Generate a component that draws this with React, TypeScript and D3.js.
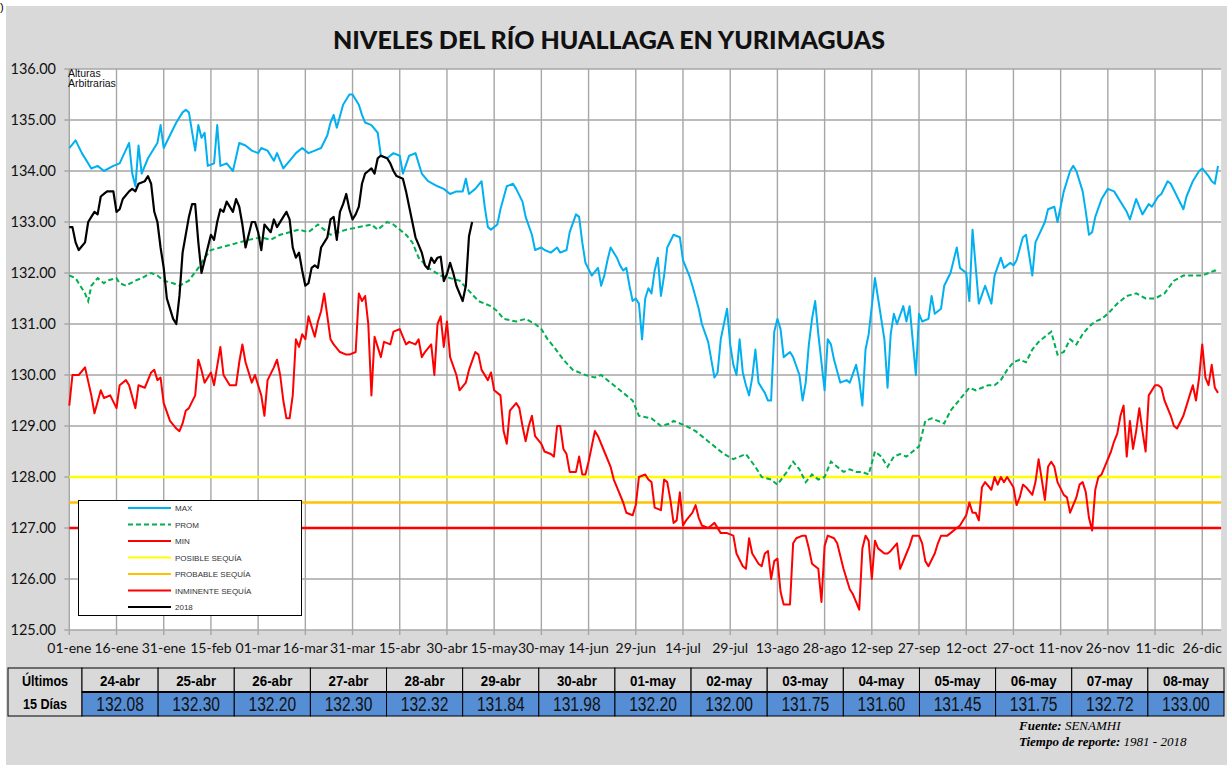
import React from "react";
import * as d3 from "d3";

// etiquetas del eje x (cada 15 días)
const dayLabels = [
  "01-ene", "16-ene", "31-ene", "15-feb", "01-mar", "16-mar", "31-mar", "15-abr", "30-abr",
  "15-may", "30-may", "14-jun", "29-jun", "14-jul", "29-jul", "13-ago", "28-ago", "12-sep",
  "27-sep", "12-oct", "27-oct", "11-nov", "26-nov", "11-dic", "26-dic",
];
const yTicks = [125, 126, 127, 128, 129, 130, 131, 132, 133, 134, 135, 136];

// [día del año, nivel]
const maxSerie: [number, number][] = [
  [0,134.45],[2,134.6],[4,134.35],[7,134.05],[9,134.1],[11,134.0],[14,134.1],[16,134.15],[19,134.55],[20,133.95],
  [21,133.7],[22,134.5],[23,133.95],[25,134.25],[27,134.45],[28,134.55],[29,134.9],[30,134.45],[32,134.7],[34,134.95],
  [36,135.15],[37,135.2],[38,135.15],[40,134.4],[41,134.9],[42,134.65],[43,134.75],[44,134.1],[46,134.15],[47,134.9],
  [48,134.1],[50,134.15],[52,134.0],[54,134.55],[56,134.5],[58,134.4],[60,134.35],[61,134.45],[63,134.4],[65,134.2],
  [66,134.35],[68,134.05],[70,134.2],[72,134.35],[74,134.45],[76,134.35],[78,134.4],[80,134.45],[82,134.7],[83,134.95],
  [84,135.1],[85,134.85],[87,135.3],[89,135.5],[90,135.5],[92,135.3],[93,135.1],[94,134.95],[96,134.9],[98,134.75],
  [99,134.3],[101,134.25],[103,134.35],[105,134.3],[106,133.95],[108,134.3],[110,134.35],[112,133.95],[114,133.8],[117,133.7],
  [119,133.65],[121,133.55],[123,133.6],[125,133.6],[126,133.85],[127,133.55],[129,133.65],[131,133.8],[132,133.3],[133,132.9],
  [134,132.85],[136,132.95],[137,133.25],[139,133.7],[141,133.75],[142,133.65],[144,133.4],[145,133.1],[147,132.75],[148,132.45],
  [150,132.5],[151,132.45],[153,132.4],[155,132.5],[156,132.4],[158,132.45],[159,132.8],[161,133.15],[162,133.1],[163,132.6],
  [164,132.2],[166,131.95],[168,132.1],[169,131.75],[170,131.95],[171,132.25],[172,132.5],[174,132.3],[175,132.15],[176,132.05],
  [177,132.1],[178,131.75],[179,131.45],[180,131.5],[181,131.4],[182,130.7],[183,131.5],[184,131.7],[185,131.6],[186,132.05],
  [187,132.3],[188,131.55],[189,131.95],[190,132.5],[192,132.75],[194,132.7],[195,132.25],[197,131.95],[198,131.75],[200,131.3],
  [201,131.0],[203,130.65],[205,129.95],[206,130.05],[207,130.7],[208,131.0],[209,131.3],[210,130.6],[211,130.2],[212,130.0],
  [213,130.7],[214,130.05],[215,129.8],[216,129.6],[217,129.95],[218,130.5],[219,129.85],[221,129.65],[222,129.5],[223,129.5],
  [224,130.85],[225,131.1],[226,130.9],[227,130.35],[229,130.45],[230,130.35],[232,130.0],[233,129.5],[234,129.85],[235,130.6],
  [236,131.1],[237,131.45],[238,130.8],[240,129.7],[241,130.7],[242,130.6],[243,130.3],[245,129.85],[247,129.9],[248,129.85],
  [250,130.2],[251,129.9],[252,129.4],[253,130.5],[254,130.8],[256,131.9],[257,131.5],[259,130.7],[260,129.75],[261,130.8],
  [262,131.2],[263,131.0],[265,131.35],[266,131.05],[267,131.35],[269,130.0],[270,131.2],[271,131.05],[273,131.1],[274,131.55],
  [275,131.2],[277,131.3],[278,131.75],[280,132.0],[282,132.5],[283,132.1],[285,132.0],[286,131.45],[287,132.85],[289,131.4],
  [291,131.75],[293,131.4],[294,131.95],[296,132.3],[297,132.1],[299,132.2],[300,132.15],[301,132.25],[303,132.7],[304,132.75],
  [306,131.95],[307,132.6],[310,133.0],[311,133.25],[313,133.3],[314,133.0],[316,133.6],[318,134.0],[319,134.1],[320,134.0],
  [322,133.6],[323,133.2],[324,132.75],[325,132.8],[326,133.1],[328,133.45],[330,133.65],[332,133.6],[334,133.4],[336,133.2],
  [337,133.05],[339,133.45],[341,133.15],[343,133.35],[344,133.3],[346,133.5],[347,133.55],[349,133.8],[350,133.75],[352,133.5],
  [354,133.25],[355,133.5],[357,133.8],[359,134.0],[360,134.05],[362,133.9],[363,133.8],[364,133.75],[365,134.1],
];

const promSerie: [number, number][] = [
  [0,131.95],[2,131.9],[3,131.8],[5,131.6],[6,131.45],[7,131.75],[9,131.9],[11,131.8],[12,131.85],[15,131.9],
  [16,131.8],[18,131.75],[21,131.85],[23,131.9],[26,132.0],[28,131.95],[30,131.85],[33,131.8],[35,131.75],[38,131.85],
  [41,132.1],[43,132.3],[45,132.45],[48,132.5],[51,132.55],[54,132.6],[57,132.65],[61,132.7],[64,132.65],[67,132.75],
  [70,132.8],[73,132.85],[76,132.8],[79,132.95],[81,132.85],[83,132.75],[88,132.85],[92,132.9],[96,132.95],[98,132.85],
  [101,133.0],[103,132.95],[104,132.9],[107,132.75],[109,132.6],[111,132.3],[114,132.1],[118,131.95],[121,131.9],[124,131.85],
  [127,131.65],[130,131.45],[134,131.35],[136,131.25],[138,131.1],[142,131.05],[145,131.1],[148,131.0],[150,130.9],[152,130.7],
  [154,130.55],[157,130.3],[160,130.1],[164,130.0],[167,129.95],[169,130.0],[172,129.85],[177,129.6],[179,129.5],[181,129.2],
  [185,129.15],[188,129.0],[191,129.05],[192,129.1],[196,129.0],[199,128.9],[202,128.75],[205,128.6],[208,128.45],[211,128.35],
  [215,128.45],[218,128.2],[220,128.0],[223,127.95],[225,127.85],[228,128.1],[230,128.3],[232,128.15],[234,127.9],[236,128.05],
  [238,127.95],[240,128.0],[242,128.3],[244,128.2],[246,128.1],[248,128.15],[250,128.1],[252,128.1],[254,128.05],[256,128.5],
  [258,128.4],[260,128.2],[262,128.4],[264,128.45],[266,128.4],[268,128.5],[270,128.6],[272,129.1],[274,129.15],[276,129.1],
  [278,129.05],[280,129.3],[282,129.45],[284,129.6],[286,129.75],[288,129.7],[290,129.75],[292,129.8],[294,129.8],[296,129.9],
  [298,130.1],[300,130.25],[302,130.3],[304,130.25],[306,130.5],[308,130.65],[310,130.75],[312,130.85],[314,130.4],[316,130.45],
  [318,130.7],[320,130.6],[322,130.8],[324,130.95],[326,131.05],[328,131.1],[330,131.2],[333,131.4],[336,131.55],[339,131.6],
  [342,131.5],[345,131.5],[348,131.6],[351,131.85],[354,131.95],[357,131.95],[360,131.95],[362,132.0],[364,132.05],[365,132.0],
];

const minSerie: [number, number][] = [
  [0,129.4],[1,130.0],[3,130.0],[5,130.15],[7,129.6],[8,129.25],[10,129.7],[11,129.55],[13,129.6],[15,129.35],
  [16,129.8],[18,129.9],[19,129.8],[21,129.35],[22,129.8],[24,129.75],[26,130.05],[27,130.1],[28,129.9],[29,129.95],
  [30,129.45],[32,129.1],[34,128.95],[35,128.9],[36,129.05],[37,129.3],[38,129.35],[40,129.6],[41,130.3],[42,130.1],
  [43,129.85],[45,130.05],[46,129.8],[48,130.55],[49,130.0],[51,129.8],[53,129.8],[54,130.25],[55,130.6],[56,130.25],
  [58,129.85],[59,130.0],[60,129.8],[61,129.6],[62,129.2],[63,129.9],[65,130.15],[66,130.3],[67,130.0],[68,129.5],
  [69,129.15],[70,129.15],[71,129.6],[72,130.7],[73,130.55],[74,130.8],[75,130.7],[76,131.15],[78,130.75],[79,131.05],
  [80,131.25],[81,131.6],[83,130.7],[84,130.6],[86,130.45],[88,130.4],[89,130.4],[91,130.45],[92,131.6],[93,131.45],
  [94,131.55],[95,131.0],[96,129.6],[97,130.75],[99,130.35],[100,130.65],[102,130.6],[103,130.85],[105,130.9],[107,130.6],
  [108,130.65],[110,130.6],[111,130.7],[112,130.35],[113,130.45],[115,130.6],[116,130.0],[117,131.0],[118,131.15],[119,130.55],
  [120,131.05],[121,130.35],[123,130.0],[124,129.7],[126,129.85],[127,130.1],[129,130.45],[130,130.4],[131,130.1],[133,129.9],
  [134,130.05],[135,129.7],[137,129.6],[138,128.9],[139,128.65],[140,129.3],[142,129.45],[143,129.35],[144,129.0],[145,128.7],
  [146,129.0],[147,129.2],[148,128.8],[150,128.65],[151,128.5],[153,128.45],[154,128.4],[155,129.0],[156,129.0],[157,128.55],
  [158,128.45],[159,128.1],[160,128.1],[161,128.1],[162,128.4],[163,128.05],[164,128.05],[165,128.3],[167,128.9],[168,128.8],
  [170,128.5],[172,128.2],[173,127.95],[174,127.8],[176,127.5],[177,127.3],[179,127.25],[180,127.45],[181,128.0],[183,128.05],
  [184,127.95],[185,127.9],[186,127.4],[188,127.35],[189,127.95],[190,127.9],[191,127.55],[192,127.1],[193,127.15],[194,127.7],
  [195,127.05],[196,127.15],[198,127.3],[199,127.45],[200,127.2],[201,127.05],[203,127.0],[204,127.05],[205,127.1],[207,126.9],
  [209,126.9],[211,126.85],[212,126.5],[214,126.25],[215,126.2],[216,126.8],[217,126.5],[219,126.3],[220,126.25],[221,126.5],
  [222,126.55],[223,126.0],[224,126.35],[225,126.4],[226,125.75],[227,125.5],[229,125.5],[230,126.7],[231,126.8],[233,126.85],
  [234,126.85],[235,126.6],[236,126.3],[238,126.2],[239,125.55],[240,126.65],[241,126.85],[243,126.8],[244,126.7],[246,126.2],
  [247,126.0],[248,125.8],[249,125.7],[250,125.55],[251,125.4],[252,126.6],[253,126.85],[254,126.75],[255,126.0],[256,126.75],
  [257,126.6],[259,126.5],[260,126.5],[261,126.55],[263,126.7],[264,126.2],[266,126.5],[267,126.65],[268,126.85],[270,126.85],
  [271,126.7],[272,126.35],[273,126.25],[275,126.5],[276,126.7],[277,126.85],[279,126.85],[280,126.9],[282,127.0],[283,127.05],
  [285,127.25],[286,127.5],[287,127.3],[288,127.3],[289,127.15],[290,127.8],[291,127.9],[293,127.75],[294,128.0],[295,127.85],
  [296,128.0],[297,127.9],[298,128.0],[300,127.8],[301,127.45],[302,127.6],[303,127.85],[304,127.8],[306,127.65],[307,127.9],
  [308,128.35],[310,127.55],[311,128.2],[312,128.3],[313,128.2],[314,127.9],[316,127.65],[317,127.6],[318,127.3],[320,127.6],
  [321,127.85],[322,127.9],[323,127.7],[324,127.2],[325,126.95],[326,127.75],[327,128.0],[328,128.05],[329,128.2],[331,128.5],
  [332,128.7],[333,128.85],[334,129.2],[335,129.4],[336,128.4],[337,129.1],[338,128.55],[339,128.9],[340,129.35],[341,128.9],
  [342,128.5],[343,129.6],[345,129.8],[346,129.8],[347,129.75],[348,129.5],[350,129.2],[351,129.0],[352,128.95],[354,129.2],
  [355,129.4],[356,129.6],[357,129.8],[358,129.5],[359,129.95],[360,130.6],[361,129.95],[362,129.8],[363,130.2],[364,129.75],
  [365,129.65],
];

// 2018 hasta el 23-abr
const serie2018: [number, number][] = [
  [0,132.9],[1,132.9],[2,132.6],[3,132.45],[5,132.6],[6,133.0],[7,133.1],[8,133.2],[9,133.15],[10,133.5],
  [11,133.55],[12,133.6],[14,133.6],[15,133.2],[16,133.25],[17,133.45],[19,133.6],[20,133.65],[21,133.6],[22,133.75],
  [24,133.8],[25,133.9],[26,133.75],[27,133.2],[28,133.0],[29,132.5],[30,132.1],[31,131.5],[33,131.1],[34,131.0],
  [35,131.55],[36,132.4],[38,133.1],[39,133.35],[40,133.35],[41,132.6],[42,132.0],[43,132.25],[45,132.75],[46,132.65],
  [47,133.0],[48,133.25],[49,133.2],[50,133.4],[52,133.2],[53,133.45],[54,133.3],[55,132.95],[56,132.5],[58,133.0],
  [59,133.0],[60,132.8],[61,132.45],[62,132.95],[64,132.8],[65,133.05],[66,132.9],[68,133.1],[69,133.2],[70,133.05],
  [71,132.5],[72,132.3],[73,132.4],[74,132.05],[75,131.75],[76,131.8],[77,132.1],[78,132.15],[79,132.1],[80,132.5],
  [82,132.7],[83,133.05],[84,133.1],[85,132.65],[86,133.2],[87,133.35],[88,133.55],[89,133.25],[90,133.05],[91,133.15],
  [92,133.3],[93,133.75],[94,133.95],[95,134.0],[96,134.05],[97,133.95],[98,134.25],[99,134.3],[101,134.25],[102,134.15],
  [103,134.0],[104,133.9],[106,133.85],[107,133.6],[108,133.3],[109,133.0],[110,132.7],[111,132.55],[112,132.4],[113,132.15],
];

// últimos 15 días
const tableDates = ["24-abr", "25-abr", "26-abr", "27-abr", "28-abr", "29-abr", "30-abr", "01-may", "02-may", "03-may", "04-may", "05-may", "06-may", "07-may", "08-may"];
const tableValues = [132.08, 132.3, 132.2, 132.3, 132.32, 131.84, 131.98, 132.2, 132.0, 131.75, 131.6, 131.45, 131.75, 132.72, 133.0];
const tableStartDay = 114;

const thresholds = [
  { name: "POSIBLE SEQUÍA", value: 128, color: "#ffff00" },
  { name: "PROBABLE SEQUÍA", value: 127.5, color: "#ffc000" },
  { name: "INMINENTE SEQUÍA", value: 127, color: "#ff0000" },
];

export default function App() {
  const W = 1227;
  const H = 765;
  const left = 69.3, right = 1218, top = 69, bottom = 630;

  const x = d3.scaleLinear().domain([0, 365]).range([left, right]);
  const y = d3.scaleLinear().domain([125, 136]).range([bottom, top]);
  const line = d3.line<[number, number]>().x((d) => x(d[0])).y((d) => y(d[1]));

  const full2018 = serie2018.concat(
    tableValues.map((v, i) => [tableStartDay + i, v] as [number, number])
  );

  const plotRight = x(366);

  const legendItems = [
    { name: "MAX", color: "#00b0f0", dash: "" },
    { name: "PROM", color: "#00b050", dash: "5,3" },
    { name: "MIN", color: "#ff0000", dash: "" },
    ...thresholds.map((t) => ({ name: t.name, color: t.color, dash: "" })),
    { name: "2018", color: "#000000", dash: "" },
  ];

  // tabla
  const tLeft = 8, tTop = 668, labelW = 74, rowH = 24;
  const colW = (1224 - tLeft - labelW) / tableDates.length;
  const narrow = (cx: number, cy: number, k: number) => `translate(${cx},${cy}) scale(${k},1)`;

  return (
    <svg width={W} height={H} style={{ position: "absolute", left: 0, top: 0 }}>
      <rect x={0} y={0} width={W} height={H} fill="#ffffff" />
      <text x={0} y={11} fontSize={11} fontFamily="Liberation Sans">)</text>
      <rect x={6} y={6} width={W - 6} height={H - 6} fill="#d9d9d9" />

      <text x={609} y={49} textAnchor="middle" fontFamily="Lato" fontWeight={900} fontSize={25} fill="#111">
        NIVELES DEL RÍO HUALLAGA EN YURIMAGUAS
      </text>

      {/* área de trazado */}
      <rect x={left} y={top} width={plotRight - left} height={bottom - top} fill="#ffffff" />
      {yTicks.map((t) => (
        <g key={"y" + t}>
          <line x1={left - 5} x2={plotRight} y1={y(t)} y2={y(t)} stroke="#a6a6a6" strokeWidth={1.4} />
          <text x={56} y={y(t) + 5} textAnchor="end" fontFamily="Lato" fontSize={14.5} fill="#111">
            {t.toFixed(2)}
          </text>
        </g>
      ))}
      {dayLabels.map((lab, i) => (
        <g key={lab}>
          <line x1={x(i * 15)} x2={x(i * 15)} y1={top} y2={bottom + 5} stroke="#a6a6a6" strokeWidth={1.4} />
          <text x={x(i * 15)} y={653} textAnchor="middle" fontFamily="Lato" fontSize={14} fill="#111">
            {lab}
          </text>
        </g>
      ))}

      <text x={68} y={77} fontFamily="Liberation Sans" fontSize={10.5} fill="#111">Alturas</text>
      <text x={68} y={87} fontFamily="Liberation Sans" fontSize={10.5} fill="#111">Arbitrarias</text>

      {thresholds.map((t) => (
        <line key={t.name} x1={left} x2={plotRight} y1={y(t.value)} y2={y(t.value)} stroke={t.color} strokeWidth={2.5} />
      ))}

      <path d={line(maxSerie) || ""} fill="none" stroke="#00b0f0" strokeWidth={2} strokeLinejoin="round" />
      <path d={line(promSerie) || ""} fill="none" stroke="#00b050" strokeWidth={2} strokeDasharray="5,3" />
      <path d={line(minSerie) || ""} fill="none" stroke="#ff0000" strokeWidth={2} strokeLinejoin="round" />
      <path d={line(full2018) || ""} fill="none" stroke="#000000" strokeWidth={2.2} strokeLinejoin="round" />

      {/* leyenda */}
      <rect x={78.5} y={500.5} width={223} height={115} fill="#ffffff" stroke="#000" strokeWidth={1} />
      {legendItems.map((it, i) => {
        const ly = 508 + i * 16.5;
        return (
          <g key={it.name}>
            <line x1={128} x2={171} y1={ly} y2={ly} stroke={it.color} strokeWidth={2} strokeDasharray={it.dash || undefined} />
            <text x={175} y={ly + 3} fontFamily="Liberation Sans" fontSize={8} fill="#333">{it.name}</text>
          </g>
        );
      })}

      {/* tabla de últimos 15 días */}
      <rect x={tLeft} y={tTop} width={labelW} height={rowH * 2} fill="#d9d9d9" stroke="#000" strokeWidth={1} />
      <text transform={narrow(tLeft + labelW / 2, tTop + 18, 0.84)} textAnchor="middle" fontFamily="Liberation Sans" fontWeight={700} fontSize={15}>Últimos</text>
      <text transform={narrow(tLeft + labelW / 2, tTop + 41, 0.84)} textAnchor="middle" fontFamily="Liberation Sans" fontWeight={700} fontSize={15}>15 Días</text>
      {tableDates.map((d, i) => {
        const cx = tLeft + labelW + i * colW;
        return (
          <g key={d}>
            <rect x={cx} y={tTop} width={colW} height={rowH} fill="#d9d9d9" stroke="#000" strokeWidth={1} />
            <rect x={cx} y={tTop + rowH} width={colW} height={rowH} fill="#558ed5" stroke="#000" strokeWidth={1} />
            <text transform={narrow(cx + colW / 2, tTop + 18, 0.86)} textAnchor="middle" fontFamily="Liberation Sans" fontWeight={700} fontSize={15.5}>{d}</text>
            <text transform={narrow(cx + colW / 2, tTop + rowH + 19, 0.8)} textAnchor="middle" fontFamily="Liberation Sans" fontSize={19.5} fill="#111">
              {tableValues[i].toFixed(2)}
            </text>
          </g>
        );
      })}
      <line x1={tLeft + labelW} x2={1224} y1={tTop + rowH} y2={tTop + rowH} stroke="#000" strokeWidth={2.2} />

      <text x={1019} y={730} fontFamily="Liberation Serif" fontSize={13} fontStyle="italic">
        <tspan fontWeight={700}>Fuente: </tspan>SENAMHI
      </text>
      <text x={1019} y={746} fontFamily="Liberation Serif" fontSize={13} fontStyle="italic">
        <tspan fontWeight={700}>Tiempo de reporte: </tspan>1981 -  2018
      </text>
    </svg>
  );
}
